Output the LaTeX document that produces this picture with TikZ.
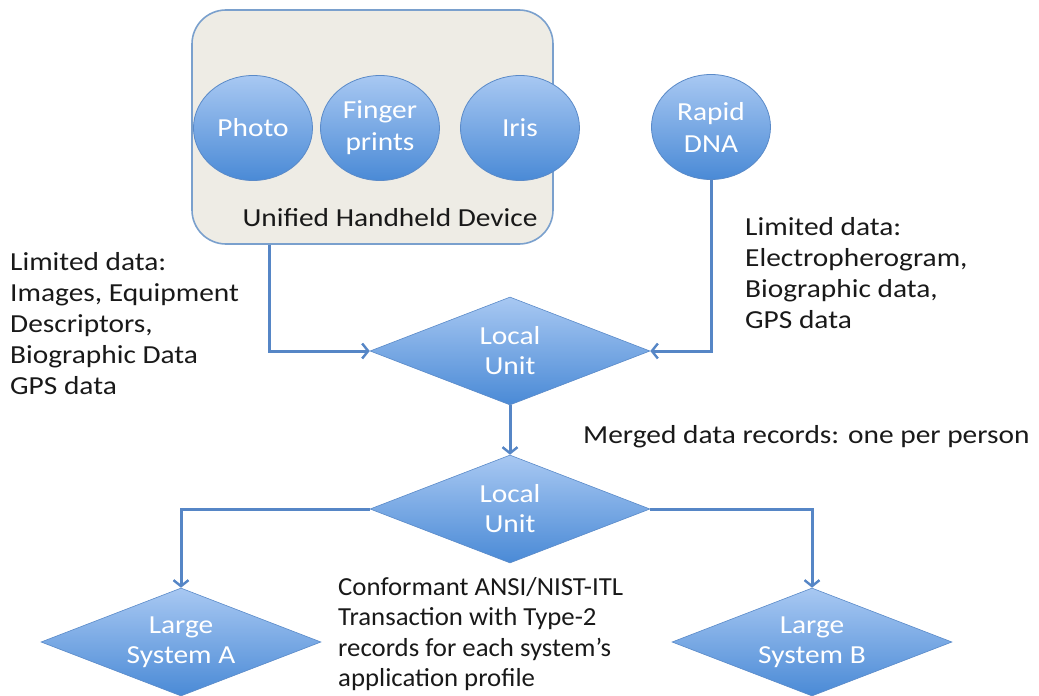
\documentclass[tikz,border=0pt]{standalone}
\usepackage{fontspec}
\setmainfont{Carlito}[FakeStretch=1.13]
\newfontfamily\narrowfont{Carlito}[FakeStretch=1.03]
\usetikzlibrary{shapes.geometric,arrows.meta}
\definecolor{cTop}{RGB}{168,200,242}
\definecolor{cBot}{RGB}{74,138,214}
\definecolor{cEdge}{RGB}{90,138,200}
\definecolor{conn}{RGB}{86,134,198}
\definecolor{devFill}{RGB}{238,236,229}
\definecolor{devEdge}{RGB}{122,160,205}
\definecolor{txt}{RGB}{25,25,25}
\tikzset{
  bub/.style={ellipse, minimum width=119pt, minimum height=105pt, inner sep=0pt,
    top color=cTop, bottom color=cBot, draw=cEdge, line width=0.8pt,
    text=white, align=center, font=\fontsize{26}{32}\selectfont},
  dia/.style={diamond, aspect=2.6, minimum width=280pt, minimum height=108pt, inner sep=0pt,
    top color=cTop, bottom color=cBot, draw=cEdge, line width=0.6pt,
    text=white, align=center, font=\fontsize{26}{30}\selectfont},
  devbox/.style={rectangle, rounded corners=34pt, minimum width=361pt, minimum height=234pt,
    fill=devFill, draw=devEdge, line width=1.6pt},
  lbl/.style={text=txt, align=left, inner sep=0pt, anchor=north west,
    font=\fontsize{26}{31}\selectfont},
  link/.style={draw=conn, line width=3pt, -{Straight Barb[length=6pt,width=15pt,line width=2.4pt]}},
}
\begin{document}
\begin{tikzpicture}[x=1pt,y=-1pt]
\useasboundingbox (0,0) rectangle (1039,696);
\node[devbox] (dev) at (372.5,127) {};
\node[bub] (photo) at (253,128) {Photo};
\node[bub] (finger) at (380,128) {Finger\\prints};
\node[bub] (iris) at (520,128) {Iris};
\node[bub] (dna) at (711,127) {Rapid\\DNA};
\node[text=txt, inner sep=0pt, font=\fontsize{26}{31}\selectfont] (devlabel) at (390,218) {Unified Handheld Device};

\node[dia] (lu1) at (510,351) {Local\\Unit};
\node[dia] (lu2) at (510,509) {Local\\Unit};
\node[dia] (lsa) at (181,642) {Large\\System A};
\node[dia] (lsb) at (812,642) {Large\\System B};

\node[lbl] (leftlbl) at (10,252) {Limited data:\\Images, Equipment\\Descriptors,\\Biographic Data\\GPS data};
\node[lbl] (rightlbl) at (745,217) {Limited data:\\Electropherogram,\\Biographic data,\\GPS data};
\node[lbl] (merged) at (583,425) {Merged data records: one per person};
\node[lbl, font=\narrowfont\fontsize{26}{30.5}\selectfont] (conf) at (338,577) {Conformant ANSI/NIST-ITL\\Transaction with Type-2\\records for each system’s\\application profile};

\draw[link] ([xshift=78pt]dev.south west) |- (lu1.west);
\draw[link] (dna.south) |- (lu1.east);
\draw[link] (lu1.south) -- (lu2.north);
\draw[link] (lu2.west) -| (lsa.north);
\draw[link] (lu2.east) -| (lsb.north);
\end{tikzpicture}
\end{document}
